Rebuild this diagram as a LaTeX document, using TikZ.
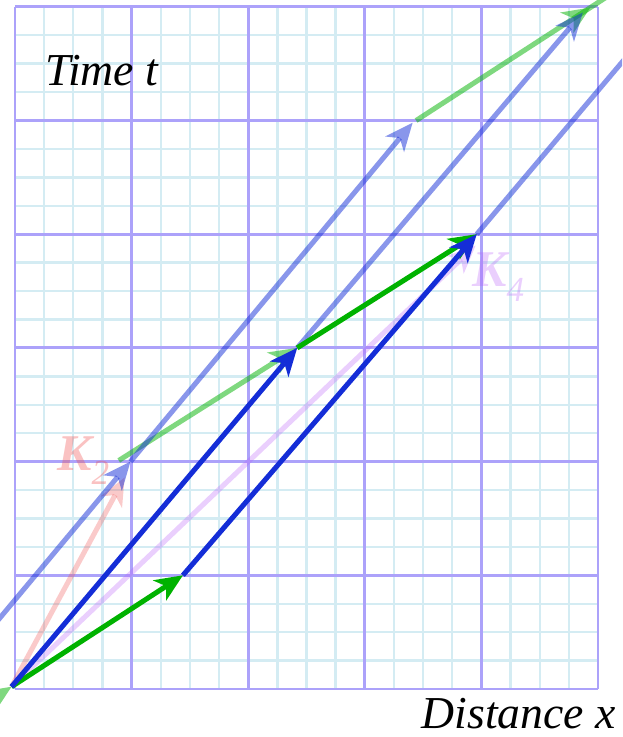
\documentclass[tikz,border=0pt]{standalone}
\usepackage{fontspec}
\setmainfont{Liberation Serif}
\usepackage{tikz}
\usetikzlibrary{arrows.meta}
\usetikzlibrary{positioning}
\usetikzlibrary{decorations.markings}

\definecolor{kblue}{RGB}{20,45,215}
\definecolor{kgreen}{RGB}{0,178,0}
\definecolor{kred}{RGB}{240,80,80}
\definecolor{kviolet}{RGB}{185,95,250}
\definecolor{gridmaj}{RGB}{172,162,250}
\definecolor{gridmin}{RGB}{212,236,243}

\newcommand{\kname}[1]{{\bfseries\itshape K}\raisebox{-12pt}{\fontsize{30}{30}\selectfont\itshape #1}}

\begin{document}
\begin{tikzpicture}[x=3.498cm, y=3.411cm,
    minorgrid/.style={draw=gridmin, line width=2pt},
    majorgrid/.style={draw=gridmaj, line width=2.5pt},
    tip/.style={-{Stealth[length=24pt,width=21pt,inset=7pt,line width=0pt]}},
    slope/.style={line width=4.3pt, tip},
    faded/.style={slope, opacity=0.5},
    ghost/.style={slope, opacity=0.3},
    klabel/.style={inner sep=0pt, font=\fontsize{44}{44}\selectfont},
    axislabel/.style={inner sep=0pt, font=\fontsize{39}{39}\selectfont\itshape}]

    \path[use as bounding box] (-0.1286,-0.422) rectangle (5.206,6.06);
    \clip (-0.1286,-0.422) rectangle (5.206,6.06);

    % graph paper
    \draw[minorgrid] (0,0) grid[step={(0.25,0.25)}] (5.001,6.001);
    \draw[majorgrid] (0,0) grid[step={(1,1)}] (5.001,6.001);

    % points of the step
    \coordinate (O) at (-0.03,0.02);
    \coordinate (B) at (1.44,1.0);
    \coordinate (A) at (2.42,3.0);
    \coordinate (C) at (3.96,4.0);
    \coordinate (D) at (0.99,2.0);
    \coordinate (Dg) at (0.89,2.01);
    \coordinate (E) at (3.41,4.98);
    \coordinate (G) at (3.44,5.0);
    \coordinate (F) at (4.87,5.95);
    \coordinate (P) at (0.94,1.86);
    \coordinate (Q) at (3.95,3.9);
    \coordinate (Gin) at (-0.43,-0.247);
    \coordinate (Bin) at (-0.5,0.17);
    \coordinate (Cout) at (5.5,5.87);
    \coordinate (Gout) at (5.2,6.17);

    % faint slopes
    \draw[ghost, draw=kred] (O) -- (P);
    \draw[ghost, draw=kviolet] (O) -- (Q);
    \node[klabel, text=kred, text opacity=0.35, anchor=base west] (k2) at (0.36,1.926) {\kname{2}};
    \node[klabel, text=kviolet, text opacity=0.3, anchor=base west] (k4) at (3.92,3.536) {\kname{4}};

    % light lines
    \draw[faded, draw=kgreen] (Gin) -- (O);
    \draw[faded, draw=kgreen] (Dg) -- (A);
    \draw[line width=4.3pt, draw=kgreen, opacity=0.5, postaction={decorate},
        decoration={markings, mark=at position 6.23cm with {\arrow{Stealth[length=24pt,width=21pt,inset=7pt,line width=0pt]}}}]
        (G) -- (Gout);
    \draw[faded, draw=kblue] (Bin) -- (D);
    \draw[faded, draw=kblue] (D) -- (E);
    \draw[faded, draw=kblue] (A) -- (F);
    \draw[line width=4.3pt, draw=kblue, opacity=0.5] (C) -- (Cout);

    % the step itself
    \draw[slope, draw=kgreen] (O) -- (B);
    \draw[slope, draw=kgreen] (A) -- (C);
    \draw[slope, draw=kblue] (O) -- (A);
    \draw[slope, draw=kblue] (B) -- (C);

    \node[axislabel, anchor=base west] (time) at (0.257,5.312) {Time t};
    \node[axislabel, anchor=base east] (dist) at (5.154,-0.343) {Distance x};
\end{tikzpicture}
\end{document}
